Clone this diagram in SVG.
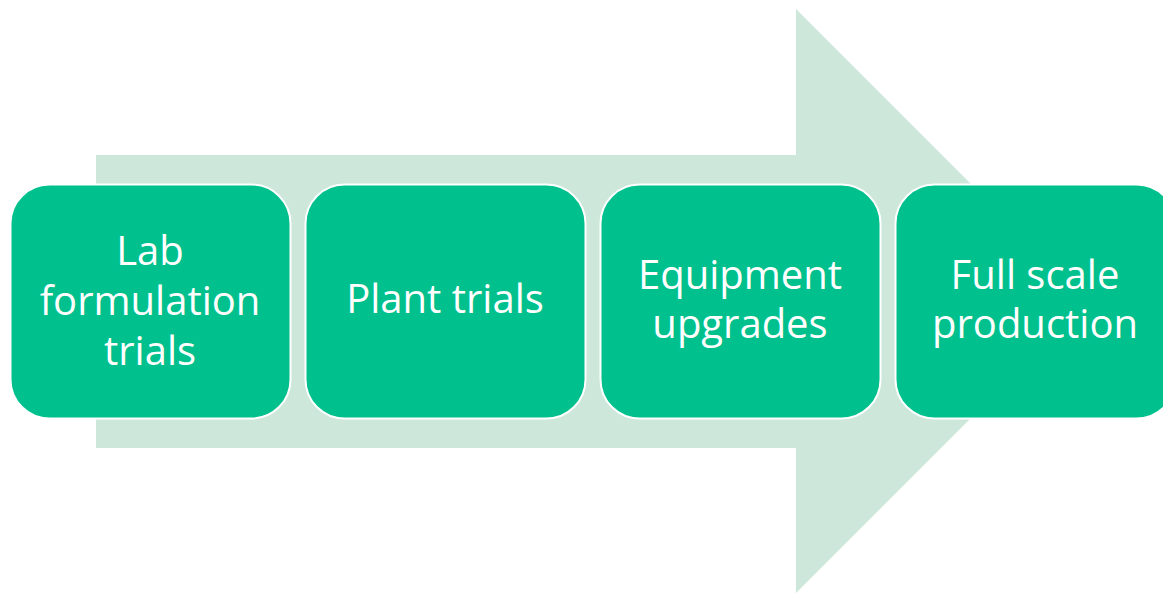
<svg xmlns="http://www.w3.org/2000/svg" width="1163" height="594" viewBox="0 0 1163 594">
<style>
.box{fill:#00C18D;stroke:#FFFFFF;stroke-width:2}
.lbl{font-family:"Open Sans","Liberation Sans",sans-serif;font-size:40px;fill:#FFFFFF;text-anchor:middle}
</style>
<rect width="1163" height="594" fill="#FFFFFF"/>
<g id="arrow">
<polygon points="96,155 796,155 796,9 1088,301 796,593 796,448 96,448" fill="#CDE8DA"/>
</g>
<g id="connectors"></g>
<g id="node1">
<rect class="box" x="10.5" y="184.5" width="280" height="234" rx="39" ry="39"/>
<text class="lbl" x="150" y="265">Lab</text>
<text class="lbl" x="150" y="315">formulation</text>
<text class="lbl" x="150" y="365">trials</text>
</g>
<g id="node2">
<rect class="box" x="305.5" y="184.5" width="280" height="234" rx="39" ry="39"/>
<text class="lbl" x="445" y="313">Plant trials</text>
</g>
<g id="node3">
<rect class="box" x="600.5" y="184.5" width="280" height="234" rx="39" ry="39"/>
<text class="lbl" x="740" y="289">Equipment</text>
<text class="lbl" x="740" y="338">upgrades</text>
</g>
<g id="node4">
<rect class="box" x="895.5" y="184.5" width="280" height="234" rx="39" ry="39"/>
<text class="lbl" x="1035" y="289">Full scale</text>
<text class="lbl" x="1035" y="338">production</text>
</g>
</svg>
